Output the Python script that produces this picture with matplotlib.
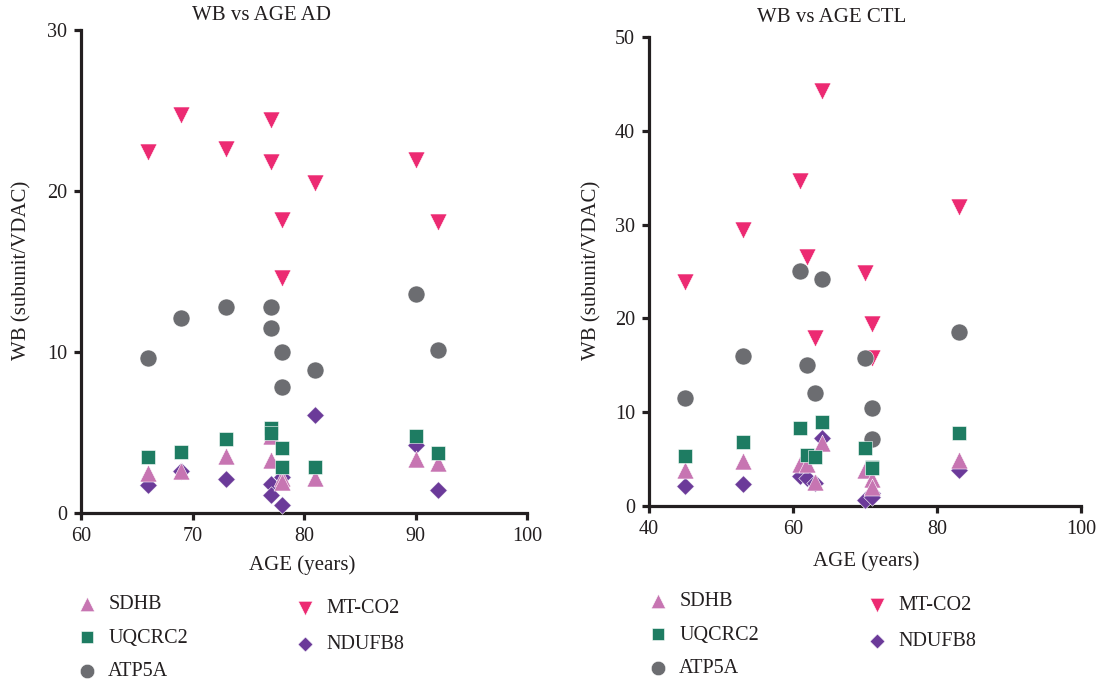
import matplotlib
matplotlib.use("Agg")
import matplotlib.pyplot as plt

plt.rcParams['font.family'] = ['Liberation Serif', 'DejaVu Serif']

# ---- Data: AD panel ----
ad_age = [66, 69, 73, 77, 77, 78, 78, 81, 90, 92]
ad_mtco2 = [22.4, 24.7, 22.6, 24.4, 21.8, 18.2, 14.6, 20.5, 21.9, 18.1]
ad_atp5a = [9.65, 12.1, 12.8, 12.8, 11.5, 10.0, 7.8, 8.9, 13.6, 10.15]
ad_uqcrc2 = [3.46, 3.79, 4.62, 5.3, 4.95, 4.04, 2.86, 2.86, 4.76, 3.73]
ad_sdhb = [2.48, 2.6, 3.52, 4.8, 3.27, 2.2, 1.93, 2.17, 3.38, 3.1]
ad_ndufb8 = [1.72, 2.6, 2.14, 1.83, 1.1, 2.24, 0.48, 6.11, 4.2, 1.45]

# ---- Data: CTL panel ----
ctl_age = [45, 53, 61, 62, 63, 64, 70, 71, 71, 83]
ctl_mtco2 = [23.9, 29.4, 34.6, 26.5, 17.9, 44.2, 24.8, 19.4, 15.8, 31.9]
ctl_atp5a = [11.5, 16.0, 25.05, 15.0, 12.1, 24.2, 15.8, 10.5, 7.1, 18.5]
ctl_uqcrc2 = [5.33, 6.86, 8.28, 5.44, 5.26, 8.99, 6.15, 4.19, 4.0, 7.75]
ctl_sdhb = [3.84, 4.8, 4.44, 4.44, 2.6, 6.68, 3.84, 2.9, 2.0, 4.9]
ctl_ndufb8 = [2.13, 2.35, 3.23, 2.95, 2.42, 7.2, 0.64, 1.35, 1.0, 3.84]

series_names = ['SDHB', 'UQCRC2', 'ATP5A', 'MT-CO2', 'NDUFB8']
colors = {'SDHB': '#C775B2', 'UQCRC2': '#1E7C62', 'ATP5A': '#6C6D71',
          'MT-CO2': '#EC2A72', 'NDUFB8': '#6B3A99'}
markers = {'SDHB': '^', 'UQCRC2': 's', 'ATP5A': 'o', 'MT-CO2': 'v', 'NDUFB8': 'D'}
sizes = {'SDHB': 150, 'UQCRC2': 105, 'ATP5A': 150, 'MT-CO2': 150, 'NDUFB8': 80}
draw_order = ['MT-CO2', 'ATP5A', 'NDUFB8', 'SDHB', 'UQCRC2']

W, H = 1099, 682
fig = plt.figure(figsize=(W / 100, H / 100), dpi=100)

ax1 = fig.add_axes([81 / W, 1 - 513 / H, 446 / W, 483 / H])
ax2 = fig.add_axes([649 / W, 1 - 506 / H, 432 / W, 469 / H])

panels = [
    (ax1, ad_age, {'SDHB': ad_sdhb, 'UQCRC2': ad_uqcrc2, 'ATP5A': ad_atp5a,
                   'MT-CO2': ad_mtco2, 'NDUFB8': ad_ndufb8},
     (60, 100), [60, 70, 80, 90, 100], (0, 30), [0, 10, 20, 30]),
    (ax2, ctl_age, {'SDHB': ctl_sdhb, 'UQCRC2': ctl_uqcrc2, 'ATP5A': ctl_atp5a,
                    'MT-CO2': ctl_mtco2, 'NDUFB8': ctl_ndufb8},
     (40, 100), [40, 60, 80, 100], (0, 50), [0, 10, 20, 30, 40, 50]),
]

handles_all = []
for ax, age, vals, xl, xt, yl, yt in panels:
    handles = {}
    for name in draw_order:
        h = ax.scatter(age, vals[name], marker=markers[name], s=sizes[name],
                       color=colors[name], edgecolors='white', linewidths=0.4,
                       label=name, clip_on=False, zorder=3)
        handles[name] = h
    handles_all.append(handles)
    ax.set_xlim(*xl)
    ax.set_ylim(*yl)
    ax.set_xticks(xt)
    ax.set_yticks(yt)
    for s in ['top', 'right']:
        ax.spines[s].set_visible(False)
    for s in ['left', 'bottom']:
        ax.spines[s].set_linewidth(2.3)
        ax.spines[s].set_color('#231F20')
    ax.tick_params(direction='out', length=5, width=2.3, color='#231F20',
                   labelsize=14.5, labelcolor='#231F20', pad=5)

TXT = 15
# titles and labels
fig.text(262 / W, 1 - 16 / H, 'WB vs AGE AD', ha='center', va='center',
         fontsize=TXT, color='#231F20')
fig.text(832 / W, 1 - 17 / H, 'WB vs AGE CTL', ha='center', va='center',
         fontsize=TXT, color='#231F20')
fig.text(302 / W, 1 - 565 / H, 'AGE (years)', ha='center', va='center',
         fontsize=TXT, color='#231F20')
fig.text(866 / W, 1 - 561 / H, 'AGE (years)', ha='center', va='center',
         fontsize=TXT, color='#231F20')
fig.text(22 / W, 1 - 270 / H, 'WB (subunit/VDAC)', ha='center', va='center',
         rotation=90, fontsize=TXT, color='#231F20')
fig.text(592 / W, 1 - 270 / H, 'WB (subunit/VDAC)', ha='center', va='center',
         rotation=90, fontsize=TXT, color='#231F20')

# legends (two columns per panel)
def add_leg(handles, names, x, y, spacing):
    leg = fig.legend([handles[n] for n in names], names, loc='upper left',
                     bbox_to_anchor=(x / W, 1 - y / H), frameon=False,
                     fontsize=14.5, borderpad=0, borderaxespad=0,
                     handlelength=0.9, handletextpad=0.6, labelspacing=spacing,
                     scatterpoints=1, labelcolor='#231F20', markerscale=0.85)
    return leg

add_leg(handles_all[0], ['SDHB', 'UQCRC2', 'ATP5A'], 78, 595, 0.72)
add_leg(handles_all[0], ['MT-CO2', 'NDUFB8'], 296, 599, 0.85)
add_leg(handles_all[1], ['SDHB', 'UQCRC2', 'ATP5A'], 649, 592, 0.72)
add_leg(handles_all[1], ['MT-CO2', 'NDUFB8'], 868, 596, 0.85)

fig.savefig('out.png', dpi=100)
